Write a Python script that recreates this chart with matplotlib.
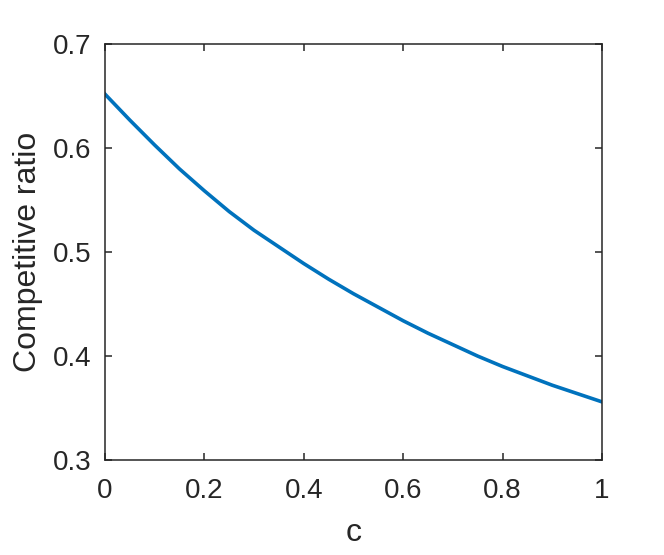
import numpy as np
import matplotlib
matplotlib.use('Agg')
import matplotlib.pyplot as plt

plt.rcParams['font.family'] = ['Liberation Sans', 'DejaVu Sans']

# values
c_vals = [0.0, 0.05, 0.1, 0.15, 0.2, 0.25, 0.3, 0.35, 0.4, 0.45, 0.5,
          0.55, 0.6, 0.65, 0.7, 0.75, 0.8, 0.85, 0.9, 0.95, 1.0]
ratio = [0.652, 0.627, 0.603, 0.580, 0.559, 0.539, 0.521, 0.505, 0.489, 0.474, 0.460,
         0.447, 0.434, 0.422, 0.411, 0.400, 0.390, 0.381, 0.372, 0.364, 0.356]

xticks = [0, 0.2, 0.4, 0.6, 0.8, 1]
xtick_labels = ['0', '0.2', '0.4', '0.6', '0.8', '1']
yticks = [0.3, 0.4, 0.5, 0.6, 0.7]
ytick_labels = ['0.3', '0.4', '0.5', '0.6', '0.7']

dark = '#262626'

fig = plt.figure(figsize=(6.64, 5.55), dpi=100)
ax = fig.add_axes([0.158, 0.171, 0.7486, 0.7495])
ax.plot(c_vals, ratio, color='#0072BD', linewidth=2.6, solid_joinstyle='round')

ax.set_xlim(0, 1)
ax.set_ylim(0.3, 0.7)
ax.set_xticks(xticks)
ax.set_xticklabels(xtick_labels)
ax.set_yticks(yticks)
ax.set_yticklabels(ytick_labels)

ax.tick_params(direction='in', length=5, width=1.1, colors=dark, labelsize=20,
               top=True, right=True)
ax.tick_params(axis='x', pad=13)
ax.tick_params(axis='y', pad=10)
for s in ax.spines.values():
    s.set_color(dark)
    s.set_linewidth(1.1)

ax.set_xlabel('c', fontsize=23, color=dark, labelpad=10)
ax.set_ylabel('Competitive ratio', fontsize=23, color=dark, labelpad=7)

fig.savefig('out.png', dpi=100)
